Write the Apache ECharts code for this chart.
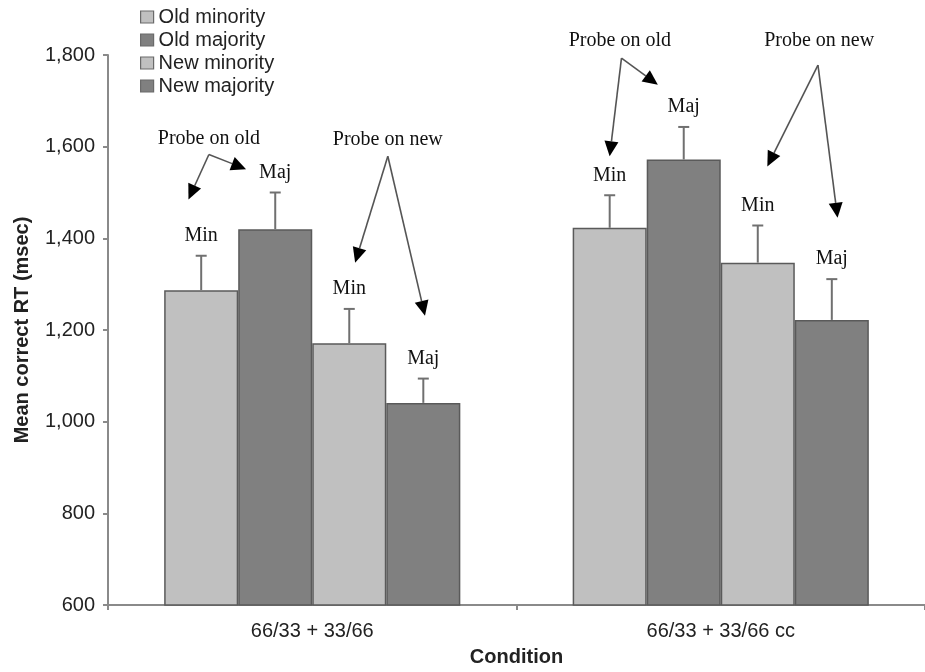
<!DOCTYPE html>
<html>
<head>
<meta charset="utf-8">
<script src="https://cdn.jsdelivr.net/npm/echarts@6/dist/echarts.min.js"></script>
<style>
html,body{margin:0;padding:0;background:#fff;}
#chart{width:925px;height:672px;}
</style>
</head>
<body>
<div id="chart"></div>
<script>
// ---- data ----
const categories = ['66/33 + 33/66', '66/33 + 33/66 cc'];
const seriesNames = ['Old minority', 'Old majority', 'New minority', 'New majority'];
const oldMinority = [1287, 1423];
const oldMajority = [1420, 1572];
const newMinority = [1171, 1347];
const newMajority = [1041, 1222];
const oldMinorityErr = [75, 71];
const oldMajorityErr = [80, 71];
const newMinorityErr = [75, 81];
const newMajorityErr = [53, 89];
const barTags = ['Min', 'Maj', 'Min', 'Maj'];
const yTicks = [600, 800, 1000, 1200, 1400, 1600, 1800];
// annotation text: [x (category units), y (value), text]
const annoTexts = [
  [-0.253, 1617, 'Probe on old'],
  [0.185, 1615, 'Probe on new'],
  [0.753, 1831, 'Probe on old'],
  [1.241, 1831, 'Probe on new']
];
// annotation arrows: [fromX, fromY, toX, toY]
const annoArrows = [
  [-0.253, 1583, -0.303, 1485],
  [-0.253, 1583, -0.162, 1551],
  [0.185, 1579, 0.105, 1347],
  [0.185, 1579, 0.276, 1231],
  [0.757, 1793, 0.728, 1579],
  [0.757, 1793, 0.846, 1735],
  [1.238, 1778, 1.114, 1557],
  [1.238, 1778, 1.286, 1445]
];

const values = [oldMinority, oldMajority, newMinority, newMajority];
const errs = [oldMinorityErr, oldMajorityErr, newMinorityErr, newMajorityErr];
const colors = ['#c0c0c0', '#808080', '#c0c0c0', '#808080'];
const CAT_GAP = '27.5%';

const errData = [];
for (let s = 0; s < 4; s++) {
  for (let c = 0; c < categories.length; c++) {
    errData.push([c, s, values[s][c], errs[s][c]]);
  }
}

const sans = 'Liberation Sans, Arial, Helvetica, sans-serif';
const serif = 'Liberation Serif, Times New Roman, serif';

const chart = echarts.init(document.getElementById('chart'));

const barSeries = seriesNames.map((n, i) => ({
  name: n,
  type: 'bar',
  data: values[i],
  barGap: '0%',
  barCategoryGap: CAT_GAP,
  itemStyle: { color: colors[i], borderColor: '#5a5a5a', borderWidth: 1.5 },
  emphasis: { disabled: true },
  z: 2
}));

const option = {
  animation: false,
  backgroundColor: '#ffffff',
  legend: {
    orient: 'vertical',
    left: 135,
    top: 2,
    itemWidth: 13,
    itemHeight: 12,
    itemGap: 3,
    icon: 'rect',
    data: seriesNames,
    textStyle: { fontFamily: sans, fontSize: 20, color: '#222' },
    itemStyle: { borderColor: '#6a6a6a', borderWidth: 1.2 }
  },
  grid: { left: 108, top: 55, width: 822, height: 552, containLabel: false },
  xAxis: [
    {
      type: 'category',
      data: categories,
      name: 'Condition',
      nameLocation: 'middle',
      nameGap: 42,
      nameTextStyle: { fontFamily: sans, fontSize: 20, fontWeight: 'bold', color: '#222' },
      axisLine: { lineStyle: { color: '#8a8a8a', width: 2 } },
      axisTick: { show: true, length: 5, lineStyle: { color: '#8a8a8a', width: 2 } },
      axisLabel: { fontFamily: sans, fontSize: 20, color: '#222', margin: 16 },
      splitLine: { show: false }
    },
    {
      type: 'value',
      min: -0.5,
      max: 1.5,
      show: false
    }
  ],
  yAxis: {
    type: 'value',
    min: yTicks[0],
    max: yTicks[yTicks.length - 1],
    interval: 200,
    name: 'Mean correct RT (msec)',
    nameLocation: 'middle',
    nameGap: 76,
    nameTextStyle: { fontFamily: sans, fontSize: 20, fontWeight: 'bold', color: '#222' },
    axisLine: { show: true, onZero: false, lineStyle: { color: '#8a8a8a', width: 2 } },
    axisTick: { show: true, length: 5, lineStyle: { color: '#8a8a8a', width: 2 } },
    axisLabel: {
      fontFamily: sans, fontSize: 20, color: '#222', margin: 13,
      formatter: v => v.toLocaleString('en-US')
    },
    splitLine: { show: false }
  },
  series: barSeries.concat([
    {
      type: 'custom',
      name: 'errors',
      xAxisIndex: 0,
      yAxisIndex: 0,
      clip: false,
      z: 5,
      data: errData,
      encode: { x: 0, y: 2 },
      renderItem: function (params, api) {
        const c = api.value(0), s = api.value(1), m = api.value(2), e = api.value(3);
        const layout = api.barLayout({ count: 4, barGap: '0%', barCategoryGap: CAT_GAP });
        const top = api.coord([c, m]);
        const cap = api.coord([c, m + e]);
        const x = top[0] + layout[s].offsetCenter;
        const hw = 5.5;
        return {
          type: 'group',
          children: [
            { type: 'line', shape: { x1: x, y1: top[1], x2: x, y2: cap[1] }, style: { stroke: '#707070', lineWidth: 2 } },
            { type: 'line', shape: { x1: x - hw, y1: cap[1], x2: x + hw, y2: cap[1] }, style: { stroke: '#707070', lineWidth: 2 } },
            { type: 'text', x: x, y: cap[1] - 10, style: { text: barTags[s], fontFamily: serif, fontSize: 20, fill: '#111', align: 'center', verticalAlign: 'bottom' } }
          ]
        };
      }
    },
    {
      type: 'custom',
      name: 'annoText',
      xAxisIndex: 1,
      yAxisIndex: 0,
      clip: false,
      z: 6,
      data: annoTexts.map(d => [d[0], d[1]]),
      renderItem: function (params, api) {
        const p = api.coord([api.value(0), api.value(1)]);
        return { type: 'text', x: p[0], y: p[1], style: { text: annoTexts[params.dataIndex][2], fontFamily: serif, fontSize: 20, fill: '#111', align: 'center', verticalAlign: 'middle' } };
      }
    },
    {
      type: 'custom',
      name: 'annoArrows',
      xAxisIndex: 1,
      yAxisIndex: 0,
      clip: false,
      z: 6,
      data: annoArrows,
      renderItem: function (params, api) {
        const a = api.coord([api.value(0), api.value(1)]);
        const b = api.coord([api.value(2), api.value(3)]);
        const dx = b[0] - a[0], dy = b[1] - a[1];
        const len = Math.sqrt(dx * dx + dy * dy);
        const ux = dx / len, uy = dy / len;
        const hl = 15, hw = 7;
        const bx = b[0] - ux * hl, by = b[1] - uy * hl;
        return {
          type: 'group',
          children: [
            { type: 'line', shape: { x1: a[0], y1: a[1], x2: bx, y2: by }, style: { stroke: '#555', lineWidth: 1.6 } },
            { type: 'polygon', shape: { points: [[b[0], b[1]], [bx - uy * hw, by + ux * hw], [bx + uy * hw, by - ux * hw]] }, style: { fill: '#000' } }
          ]
        };
      }
    }
  ])
};
chart.setOption(option);
</script>
</body>
</html>
